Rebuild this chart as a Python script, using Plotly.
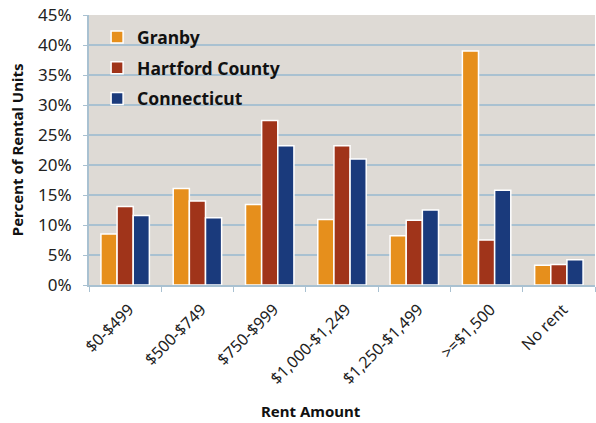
import plotly.graph_objects as go

categories = ["$0-$499", "$500-$749", "$750-$999", "$1,000-$1,249",
              "$1,250-$1,499", ">=$1,500", "No rent"]
granby = [8.5, 16.1, 13.4, 10.9, 8.2, 39.0, 3.3]
hartford = [13.1, 14.0, 27.4, 23.2, 10.8, 7.5, 3.4]
connecticut = [11.6, 11.2, 23.2, 21.0, 12.5, 15.8, 4.2]

series = [
    ("Granby", granby, "#E68F1C"),
    ("Hartford County", hartford, "#A0341A"),
    ("Connecticut", connecticut, "#1A3A7C"),
]

GRID = "#A9C1D1"
FONT = "Noto Sans"

fig = go.Figure()
for name, vals, color in series:
    fig.add_trace(go.Bar(
        x=categories, y=vals, name=f"<b>{name}</b>", legendgroup=name,
        marker=dict(color=color, line=dict(color="white", width=1.5)),
    ))

fig.update_layout(
    width=596, height=423,
    margin=dict(l=89, r=1, t=15, b=138, autoexpand=False),
    paper_bgcolor="white", plot_bgcolor="#DEDAD5",
    font=dict(family=FONT, color="#1a1a1a", size=14),
    barmode="group", bargap=0.33, bargroupgap=0,
    showlegend=True,
    legend=dict(x=0.016, y=0.985, xanchor="left", yanchor="top",
                bgcolor="rgba(0,0,0,0)",
                font=dict(family=FONT, size=17.5, color="#111"),
                tracegroupgap=5, itemwidth=30),
    xaxis=dict(
        tickangle=-45, tickson="boundaries", ticks="outside", ticklen=5,
        tickcolor=GRID, showline=True, linecolor=GRID, linewidth=2,
        tickfont=dict(size=16, color="#222"), automargin=False,
        ticklabelstandoff=7, ticklabelshift=4,
    ),
    yaxis=dict(
        range=[0, 45], dtick=5, ticksuffix="%", showgrid=True,
        gridcolor=GRID, gridwidth=2, ticks="outside", ticklen=4,
        tickcolor=GRID, showline=True, linecolor=GRID, linewidth=2,
        tickfont=dict(size=17, color="#222"), zeroline=False, automargin=False,
        ticklabelstandoff=8,
    ),
    annotations=[
        dict(text="<b>Percent of Rental Units</b>", xref="paper", yref="paper",
             x=-0.142, y=0.5, textangle=-90, showarrow=False,
             font=dict(size=15, color="#111"), xanchor="center", yanchor="middle"),
        dict(text="<b>Rent Amount</b>", xref="paper", yref="paper",
             x=(311 - 89) / 506, y=-0.468, showarrow=False,
             font=dict(size=15, color="#111"), xanchor="center", yanchor="middle"),
    ],
)

# drop the page's default body margin so the figure sits at the window's corner
fig.write_html("out.html", config={"displayModeBar": False},
               post_script="document.body.style.margin='0';")
